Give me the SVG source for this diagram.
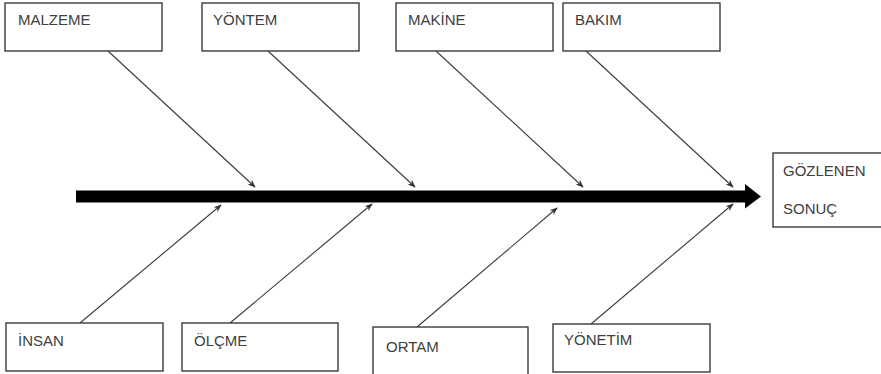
<svg xmlns="http://www.w3.org/2000/svg" width="881" height="374" viewBox="0 0 881 374">
  <style>
    .box { fill: #ffffff; stroke: #3a3a3a; stroke-width: 1.4; }
    .lbl { font-family: "Liberation Sans", Arial, sans-serif; font-size: 15px; fill: #404040; }
    .bone { stroke: #3a3a3a; stroke-width: 1.1; fill: none; marker-end: url(#tip); }
  </style>
  <defs>
    <marker id="tip" viewBox="0 0 10 10" refX="9" refY="5" markerWidth="8" markerHeight="8" markerUnits="userSpaceOnUse" orient="auto">
      <path d="M0,1 L10,5 L0,9 L3,5 Z" fill="#333333"/>
    </marker>
  </defs>
  <rect width="881" height="374" fill="#ffffff"/>

  <!-- spine -->
  <g id="spine">
    <rect x="76" y="190.5" width="670" height="12" fill="#000000"/>
    <polygon points="745,184 761,196.5 745,208.5" fill="#000000"/>
  </g>

  <!-- bones -->
  <g id="connectors">
    <line class="bone" x1="108" y1="51" x2="255" y2="187"/>
    <line class="bone" x1="268" y1="51" x2="415" y2="187"/>
    <line class="bone" x1="436" y1="51" x2="583" y2="187"/>
    <line class="bone" x1="586" y1="51" x2="733" y2="187"/>
    <line class="bone" x1="80" y1="323" x2="221" y2="205"/>
    <line class="bone" x1="230" y1="323" x2="372" y2="204"/>
    <line class="bone" x1="417" y1="327" x2="557" y2="208"/>
    <line class="bone" x1="591" y1="324" x2="733" y2="204"/>
  </g>

  <g id="malzeme">
    <rect class="box" x="5" y="3" width="157" height="48"/>
    <text class="lbl" x="18" y="25">MALZEME</text>
  </g>
  <g id="yontem">
    <rect class="box" x="202" y="3" width="157" height="48"/>
    <text class="lbl" x="213" y="25">YÖNTEM</text>
  </g>
  <g id="makine">
    <rect class="box" x="396" y="3" width="157" height="48"/>
    <text class="lbl" x="408" y="25">MAKİNE</text>
  </g>
  <g id="bakim">
    <rect class="box" x="563" y="3" width="157" height="48"/>
    <text class="lbl" x="575" y="25">BAKIM</text>
  </g>

  <g id="sonuc">
    <rect class="box" x="773" y="153" width="110" height="74"/>
    <text class="lbl" x="783" y="176">GÖZLENEN</text>
    <text class="lbl" x="783" y="214">SONUÇ</text>
  </g>

  <g id="insan">
    <rect class="box" x="6" y="323" width="157" height="48"/>
    <text class="lbl" x="18" y="346">İNSAN</text>
  </g>
  <g id="olcme">
    <rect class="box" x="182" y="323" width="156" height="48"/>
    <text class="lbl" x="194" y="346">ÖLÇME</text>
  </g>
  <g id="ortam">
    <rect class="box" x="373" y="327" width="155" height="52"/>
    <text class="lbl" x="386" y="352">ORTAM</text>
  </g>
  <g id="yonetim">
    <rect class="box" x="553" y="324" width="157" height="48"/>
    <text class="lbl" x="564" y="345">YÖNETİM</text>
  </g>
</svg>
